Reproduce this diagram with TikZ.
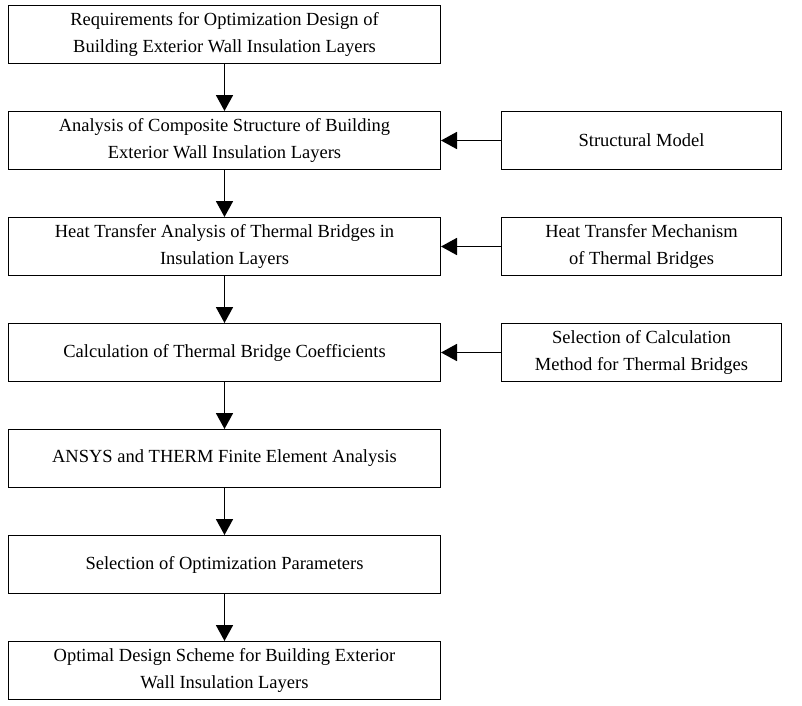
\documentclass[tikz,border=0pt]{standalone}
\usepackage{fontspec}
\setmainfont{Liberation Serif}
\usetikzlibrary{arrows.meta, positioning}
\begin{document}
\begin{tikzpicture}[x=1pt, y=-1pt,
    node distance=47pt and 60pt,
    box/.style={draw, line width=1pt, minimum width=432pt, minimum height=58pt, align=center, inner sep=2pt, font=\fontsize{18.5}{27}\selectfont},
    side/.style={box, minimum width=280pt},
    arrow/.style={-{Triangle[length=16pt,width=17pt]}, line width=1.8pt}
]
    \useasboundingbox (0,0) rectangle (802,705);
    \node[box, anchor=north west] (req) at (8,5) {Requirements for Optimization Design of\\Building Exterior Wall Insulation Layers};
    \node[box, below=of req] (comp) {Analysis of Composite Structure of Building\\Exterior Wall Insulation Layers};
    \node[box, below=of comp] (heat) {Heat Transfer Analysis of Thermal Bridges in\\Insulation Layers};
    \node[box, below=of heat] (coef) {Calculation of Thermal Bridge Coefficients};
    \node[box, below=of coef] (fea) {ANSYS and THERM Finite Element Analysis};
    \node[box, below=of fea] (param) {Selection of Optimization Parameters};
    \node[box, below=of param] (opt) {Optimal Design Scheme for Building Exterior\\Wall Insulation Layers};

    \node[side, right=of comp] (model) {Structural Model};
    \node[side, right=of heat] (mech) {Heat Transfer Mechanism\\of Thermal Bridges};
    \node[side, right=of coef] (method) {Selection of Calculation\\Method for Thermal Bridges};

    \draw[arrow] (req) -- (comp);
    \draw[arrow] (comp) -- (heat);
    \draw[arrow] (heat) -- (coef);
    \draw[arrow] (coef) -- (fea);
    \draw[arrow] (fea) -- (param);
    \draw[arrow] (param) -- (opt);
    \draw[arrow] (model) -- (comp);
    \draw[arrow] (mech) -- (heat);
    \draw[arrow] (method) -- (coef);
\end{tikzpicture}
\end{document}
